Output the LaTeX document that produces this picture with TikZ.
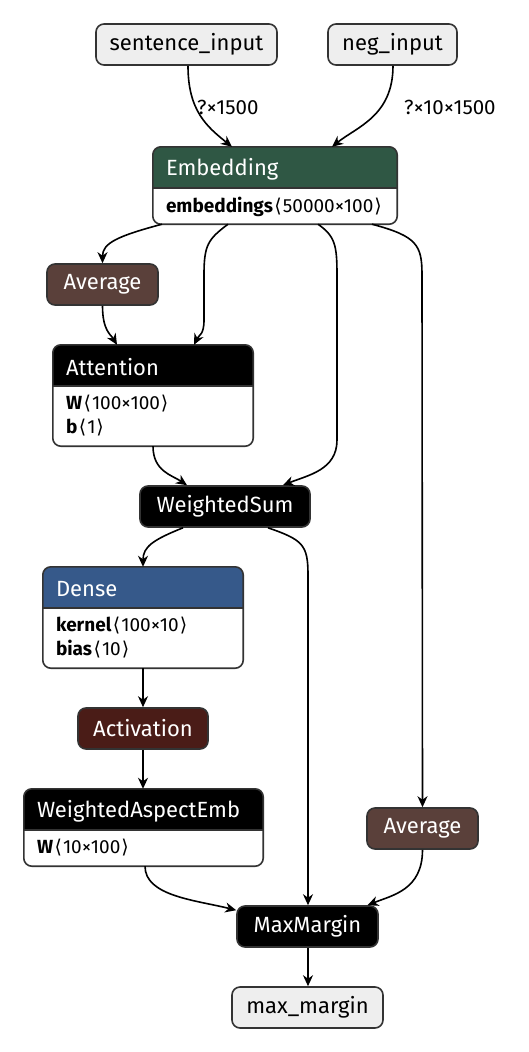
\documentclass[tikz,border=0pt]{standalone}
\usepackage{fontspec}
\setmainfont{Fira Sans}
\newfontfamily\symf{DejaVu Sans}
\usetikzlibrary{arrows.meta}
\definecolor{bordc}{HTML}{333333}
\definecolor{lightc}{HTML}{EEEEEE}
\definecolor{embc}{HTML}{2F5744}
\definecolor{avgc}{HTML}{5A403A}
\definecolor{densec}{HTML}{36598A}
\definecolor{actc}{HTML}{4A1C17}
\newcommand\lbr{\hspace{1.5pt}{\symf\char"27E8}\hspace{1pt}}
\newcommand\rbr{\hspace{1pt}{\symf\char"27E9}}
\newcommand\recnode[7]{%
  \node[recbox, minimum width=#3, minimum height=#4] (#1) at (#2) {};
  \begin{scope}
    \clip[rounded corners=8pt] (#1.north west) rectangle (#1.south east);
    \fill[#5] (#1.north west) rectangle ([yshift=-41pt]#1.north east);
  \end{scope}
  \draw[bordline] ([yshift=-41pt]#1.north west) -- ([yshift=-41pt]#1.north east);
  \draw[bordline, rounded corners=8pt] (#1.north west) rectangle (#1.south east);
  \node[anchor=west, text=white, hfont, inner sep=0pt] (#1-t) at ([xshift=13pt,yshift=-22pt]#1.north west) {#6};
  \node[anchor=north west, bfont, inner sep=0pt, align=left] (#1-b) at ([xshift=13pt,yshift=-50pt]#1.north west) {#7};
}
\begin{document}
\begin{tikzpicture}[x=1pt,y=-1pt,
  hfont/.style={font=\fontsize{22}{24}\selectfont},
  bfont/.style={font=\fontsize{19}{24}\selectfont},
  box/.style={draw=bordc, line width=1.6pt, rounded corners=8pt, minimum height=41pt, inner sep=0pt, hfont},
  recbox/.style={fill=white, inner sep=0pt},
  bordline/.style={draw=bordc, line width=1.6pt},
  edge/.style={draw=black, line width=1.6pt, -{Stealth[length=11pt,width=10pt,inset=3.5pt]}},
  elab/.style={font=\fontsize{20.5}{22}\selectfont, inner sep=0pt}
]
\useasboundingbox (0,0) rectangle (528,1052);

% simple nodes
\node[box, fill=lightc, minimum width=181pt] (si) at (186.5,44.5) {sentence\_input};
\node[box, fill=lightc, minimum width=129pt] (ni) at (392.5,44.5) {neg\_input};
\node[box, fill=avgc, text=white, minimum width=111pt] (avg1) at (102.5,284.5) {Average};
\node[box, fill=black, text=white, minimum width=170pt] (ws) at (225,506.5) {WeightedSum};
\node[box, fill=actc, text=white, minimum width=130pt] (act) at (143,728.5) {Activation};
\node[box, fill=avgc, text=white, minimum width=111pt] (avg2) at (422.5,828.5) {Average};
\node[box, fill=black, text=white, minimum width=141pt] (mm) at (307.5,926.5) {MaxMargin};
\node[box, fill=lightc, minimum width=151pt] (out) at (307.5,1007.5) {max\_margin};

% record nodes
\recnode{emb}{275,185.5}{244pt}{77pt}{embc}{Embedding}{\textbf{embeddings}\lbr 50000×100\rbr}
\recnode{att}{153,395.5}{200pt}{101pt}{black}{Attention}{\textbf{W}\lbr 100×100\rbr\\\textbf{b}\lbr 1\rbr}
\recnode{den}{143,617.5}{200pt}{101pt}{densec}{Dense}{\textbf{kernel}\lbr 100×10\rbr\\\textbf{bias}\lbr 10\rbr}
\recnode{wae}{143.5,827.5}{239pt}{77pt}{black}{WeightedAspectEmb}{\textbf{W}\lbr 10×100\rbr}

% labels
\node[elab, anchor=west] (lab1) at (197,107) {?×1500};
\node[elab, anchor=west] (lab2) at (404,107) {?×10×1500};

% edges
\draw[edge] ([xshift=1.5pt]si.south) .. controls +(0,45) and +(-25,-20) .. ([xshift=-43pt]emb.north);
\draw[edge] ([xshift=0.5pt]ni.south) .. controls +(0,50) and +(25,-20) .. ([xshift=57pt]emb.north);

\draw[edge] ([xshift=-113pt]emb.south) .. controls +(-45,12) and +(0,-20) .. (avg1.north);
\draw[edge] ([xshift=-47pt]emb.south) .. controls +(-20,15) and +(0,-30) .. (204,275) -- (204,320) .. controls +(0,15) and +(5,-10) .. ([xshift=41pt]att.north);
\draw[edge] (avg1.south) .. controls +(0,25) and +(-6,-10) .. ([xshift=-36pt]att.north);
\draw[edge] ([xshift=43pt]emb.south) .. controls +(17,12) and +(0,-30) .. (337,275) -- (337,440) .. controls +(0,30) and +(25,-10) .. ([xshift=58pt]ws.north);
\draw[edge] ([xshift=97pt]emb.south) .. controls +(45,12) and +(0,-30) .. (422,275) -- (avg2.north);
\draw[edge] (att.south) .. controls +(0,25) and +(-15,-10) .. ([xshift=-38pt]ws.north);
\draw[edge] ([xshift=-42pt]ws.south) .. controls +(-30,12) and +(0,-20) .. (den.north);
\draw[edge] ([xshift=43pt]ws.south) .. controls +(35,12) and +(0,-30) .. (308,575) -- ([xshift=0.5pt]mm.north);
\draw[edge] (den.south) -- (act.north);
\draw[edge] (act.south) -- ([xshift=-0.5pt]wae.north);
\draw[edge] ([xshift=1.5pt]wae.south) .. controls +(0,30) and +(-40,-10) .. ([yshift=-5pt]mm.north west);
\draw[edge] (avg2.south) .. controls +(0,40) and +(25,-10) .. ([xshift=60pt]mm.north);
\draw[edge] ([xshift=0.5pt]mm.south) -- ([xshift=0.5pt]out.north);
\end{tikzpicture}
\end{document}
